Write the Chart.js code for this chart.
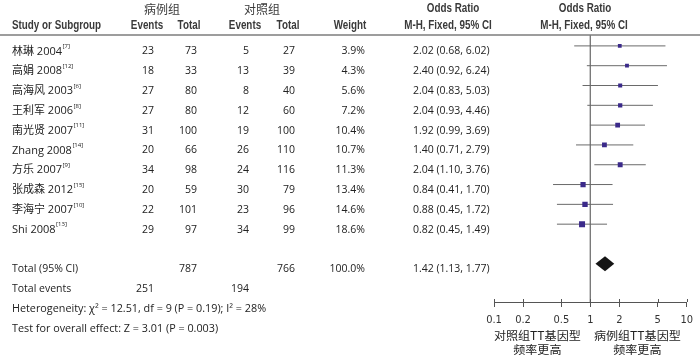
<!DOCTYPE html>
<html><head><meta charset="utf-8">
<script src="https://cdn.jsdelivr.net/npm/chart.js@4/dist/chart.umd.min.js"></script>
<style>html,body{margin:0;padding:0;background:#fff}#wrap{width:700px;height:356px;position:relative}</style>
</head><body><div id="wrap"><canvas id="c"></canvas></div>
<script>
const studies = ['林琳 2004','高娟 2008','高海风 2003','王利军 2006','南光贤 2007','Zhang 2008','方乐 2007','张成森 2012','李海宁 2007','Shi 2008'];
const refs = ['[7]','[12]','[6]','[8]','[11]','[14]','[9]','[15]','[10]','[13]'];
const caseEvents = [23,18,27,27,31,20,34,20,22,29];
const caseTotal = [73,33,80,80,100,66,98,59,101,97];
const ctrlEvents = [5,13,8,12,19,26,24,30,23,34];
const ctrlTotal = [27,39,40,60,100,110,116,79,96,99];
const weights = [3.9,4.3,5.6,7.2,10.4,10.7,11.3,13.4,14.6,18.6];
const orValues = [2.02,2.40,2.04,2.04,1.92,1.40,2.04,0.84,0.88,0.82];
const ciLow = [0.68,0.92,0.83,0.93,0.99,0.71,1.10,0.41,0.45,0.45];
const ciHigh = [6.02,6.24,5.03,4.46,3.69,2.79,3.76,1.70,1.72,1.49];
const totalsN = [787, 766];
const totalEvents = [251, 194];
const pooled = [1.42, 1.13, 1.77];
const totalWeight = '100.0%';
const xTicks = [0.1,0.2,0.5,1,2,5,10];
const groupHeaders = ['病例组','对照组'];
const favourLabels = [['对照组TT基因型','频率更高'],['病例组TT基因型','频率更高']];
const heteroText = 'Heterogeneity: χ² = 12.51, df = 9 (P = 0.19); I² = 28%';
const overallText = 'Test for overall effect: Z = 3.01 (P = 0.003)';

const TOTAL_ROW = 11, EVENTS_ROW = 12, HET_ROW = 13, TEST_ROW = 14;
const fmt = v => v.toFixed(2);
const orText = (o,l,h) => `${fmt(o)} (${fmt(l)}, ${fmt(h)})`;

const ciDatasets = studies.map((s,i) => ({
  type:'line', data:[{x:ciLow[i],y:i},{x:ciHigh[i],y:i}],
  borderColor:'#6a6a6a', borderWidth:1, pointRadius:0, showLine:true, fill:false, order:2
}));

const DATA_FONT = "10.5px 'Open Sans', 'Noto Sans CJK SC', sans-serif";
const NAME_FONT = "11px 'Open Sans', 'Noto Sans CJK SC', sans-serif";
const HEAD_FONT = "bold 12px 'Liberation Sans', Arial, sans-serif";
const CJK_FONT = "12px 'Noto Sans CJK SC', sans-serif";
const FAV_FONT = "11.5px 'Noto Sans CJK SC', sans-serif";

function narrowText(ctx, text, x, y, align, sx){
  ctx.save();
  ctx.translate(x, y); ctx.scale(sx, 1);
  ctx.textAlign = align;
  ctx.fillText(text, 0, 0);
  ctx.restore();
}

const textPlugin = {
  id:'forestText',
  afterDraw(chart){
    const ctx = chart.ctx, x = chart.scales.x, y = chart.scales.y;
    const top = chart.chartArea.top, bottom = chart.chartArea.bottom;
    ctx.save();
    // header rule
    ctx.strokeStyle = '#7d7d7d'; ctx.lineWidth = 1.5;
    ctx.beginPath(); ctx.moveTo(0, top); ctx.lineTo(700, top); ctx.stroke();
    // ticks crossing above the axis
    ctx.strokeStyle = '#555'; ctx.lineWidth = 1;
    xTicks.forEach(v => { const px = Math.round(x.getPixelForValue(v)) + 0.5; ctx.beginPath(); ctx.moveTo(px, bottom - 3); ctx.lineTo(px, bottom); ctx.stroke(); });
    // diamond
    const dy = y.getPixelForValue(TOTAL_ROW);
    ctx.fillStyle = '#151515';
    ctx.beginPath();
    ctx.moveTo(x.getPixelForValue(pooled[1]), dy);
    ctx.lineTo(x.getPixelForValue(pooled[0]), dy - 7.5);
    ctx.lineTo(x.getPixelForValue(pooled[2]), dy);
    ctx.lineTo(x.getPixelForValue(pooled[0]), dy + 7.5);
    ctx.closePath(); ctx.fill();

    ctx.textBaseline = 'middle';
    ctx.fillStyle = '#3a3a3a';
    // headers
    ctx.font = CJK_FONT; ctx.textAlign = 'center';
    ctx.fillText(groupHeaders[0], 162, 9);
    ctx.fillText(groupHeaders[1], 262, 9);
    ctx.font = HEAD_FONT;
    const SX = 0.82;
    narrowText(ctx, 'Odds Ratio', 453, 9, 'center', SX);
    narrowText(ctx, 'Odds Ratio', 585, 9, 'center', SX);
    narrowText(ctx, 'Events', 147, 26, 'center', SX);
    narrowText(ctx, 'Total', 189, 26, 'center', SX);
    narrowText(ctx, 'Events', 245, 26, 'center', SX);
    narrowText(ctx, 'Total', 288, 26, 'center', SX);
    narrowText(ctx, 'Weight', 350, 26, 'center', SX);
    narrowText(ctx, 'M-H, Fixed, 95% CI', 448, 26, 'center', SX);
    narrowText(ctx, 'M-H, Fixed, 95% CI', 584, 26, 'center', SX);
    narrowText(ctx, 'Study or Subgroup', 12, 26, 'left', SX);

    ctx.fillStyle = '#222';
    const ty = r => y.getPixelForValue(r) + 5.5;
    studies.forEach((s,i) => {
      const yy = ty(i);
      ctx.textAlign = 'left'; ctx.font = NAME_FONT;
      ctx.fillText(s, 12, yy);
      const w = ctx.measureText(s).width;
      ctx.font = "6px 'Open Sans', sans-serif";
      ctx.fillText(refs[i], 12 + w + 0.5, yy - 5);
      ctx.font = DATA_FONT; ctx.textAlign = 'right';
      ctx.fillText(String(caseEvents[i]), 154, yy);
      ctx.fillText(String(caseTotal[i]), 197, yy);
      ctx.fillText(String(ctrlEvents[i]), 249, yy);
      ctx.fillText(String(ctrlTotal[i]), 295, yy);
      ctx.fillText(weights[i].toFixed(1) + '%', 365, yy);
      ctx.textAlign = 'left';
      ctx.fillText(orText(orValues[i], ciLow[i], ciHigh[i]), 413, yy);
    });
    ctx.font = DATA_FONT;
    let yy = ty(TOTAL_ROW);
    ctx.textAlign = 'left'; ctx.fillText('Total (95% CI)', 12, yy);
    ctx.fillText(orText(pooled[0], pooled[1], pooled[2]), 413, yy);
    ctx.textAlign = 'right';
    ctx.fillText(String(totalsN[0]), 197, yy);
    ctx.fillText(String(totalsN[1]), 295, yy);
    ctx.fillText(totalWeight, 365, yy);
    yy = ty(EVENTS_ROW);
    ctx.textAlign = 'left'; ctx.fillText('Total events', 12, yy);
    ctx.textAlign = 'right';
    ctx.fillText(String(totalEvents[0]), 154, yy);
    ctx.fillText(String(totalEvents[1]), 249, yy);
    ctx.textAlign = 'left';
    ctx.font = "10.8px 'Open Sans', sans-serif";
    ctx.fillText(heteroText, 12, ty(HET_ROW));
    ctx.fillText(overallText, 12, ty(TEST_ROW));

    // favour labels
    ctx.font = FAV_FONT; ctx.fillStyle = '#222';
    const one = x.getPixelForValue(1);
    narrowText(ctx, favourLabels[0][0], one - 53, 335.5, 'center', 1.05);
    narrowText(ctx, favourLabels[0][1], one - 53, 349.5, 'center', 1.05);
    narrowText(ctx, favourLabels[1][0], one + 47, 335.5, 'center', 1.05);
    narrowText(ctx, favourLabels[1][1], one + 47, 349.5, 'center', 1.05);
    ctx.restore();
  }
};

new Chart(document.getElementById('c'), {
  type:'scatter',
  data:{ datasets:[
    { type:'line', data:[{x:1,y:-0.55},{x:1,y:12.93}], borderColor:'#7a7a7a', borderWidth:1, pointRadius:0, showLine:true, order:3 },
    ...ciDatasets,
    { type:'scatter', data: orValues.map((v,i)=>({x:v,y:i})), pointStyle:'rect',
      pointRadius: c => (3.2 + 0.15 * weights[c.dataIndex]) / Math.SQRT2,
      pointBorderWidth:0, backgroundColor:'#3b2a8a', borderColor:'#3b2a8a', order:1 }
  ]},
  options:{
    responsive:true, maintainAspectRatio:false, animation:false, devicePixelRatio:1,
    layout:{ padding:{ left:494, right:11, top:35, bottom:0 } },
    plugins:{ legend:{display:false}, tooltip:{enabled:false} },
    scales:{
      x:{ type:'logarithmic', min:0.1, max:10, position:'bottom',
        afterBuildTicks: s => { s.ticks = xTicks.map(v => ({value:v})); },
        afterFit: s => { s.height = 54; },
        ticks:{ callback: v => String(v), autoSkip:false, maxRotation:0, padding:7, color:'#333',
          font:{ family:"'DejaVu Sans Condensed', 'Liberation Sans', sans-serif", size:11 } },
        grid:{ drawOnChartArea:false, drawTicks:true, tickLength:5, color:'#555' },
        border:{ display:true, color:'#555', width:1 }
      },
      y:{ type:'linear', reverse:true, min:-0.55, max:12.93, display:false }
    }
  },
  plugins:[textPlugin]
});
</script></body></html>
